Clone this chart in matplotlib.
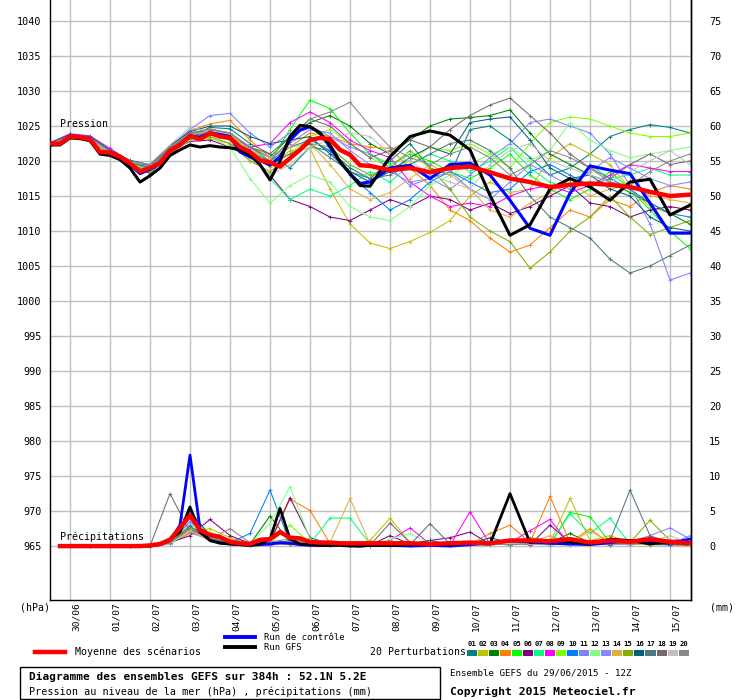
import matplotlib
matplotlib.use("Agg")
import matplotlib.pyplot as plt
import numpy as np
from matplotlib.lines import Line2D
from matplotlib.patches import Rectangle
from matplotlib.transforms import blended_transform_factory

# time steps (hours since 29/06 12Z): 6h to 192h then 12h
HOURS_FINE = np.r_[np.arange(0, 193, 6), np.arange(204, 385, 12)]
RAIN_HOURS_FINE = np.r_[np.arange(6, 193, 6), np.arange(204, 385, 12)]
HOURS_12 = np.arange(0, 385, 12)
RAIN_HOURS_12 = np.arange(12, 385, 12)

DAY_HOURS = np.arange(12, 385, 24)
DAY_LABELS = ['30/06', '01/07', '02/07', '03/07', '04/07', '05/07', '06/07', '07/07',
              '08/07', '09/07', '10/07', '11/07', '12/07', '13/07', '14/07', '15/07']

MEAN_P = [1022.5, 1022.5, 1023.5, 1023.4, 1023.1, 1021.3, 1021.2, 1020.6, 1019.7, 1018.5, 1019.0,
          1019.7, 1021.5, 1022.3, 1023.6, 1023.1, 1024.0, 1023.5, 1023.3, 1022.0, 1021.3, 1020.1,
          1019.8, 1019.2, 1020.4, 1021.6, 1023.0, 1023.3, 1023.1, 1021.6, 1020.9, 1019.4, 1019.3,
          1018.7, 1019.0, 1018.4, 1019.0, 1019.2, 1018.4, 1017.5, 1017.0, 1016.3, 1016.6, 1016.8,
          1016.6, 1016.3, 1015.6, 1015.0, 1015.2]
CTRL_P = [1022.4, 1022.5, 1023.4, 1023.3, 1023.0, 1021.2, 1021.0, 1020.4, 1019.5, 1018.2, 1018.8,
          1019.6, 1021.4, 1022.4, 1023.5, 1023.4, 1024.0, 1023.8, 1023.5, 1021.3, 1020.6, 1020.1,
          1019.4, 1020.6, 1023.0, 1024.4, 1024.9, 1024.0, 1022.0, 1019.9, 1018.2, 1016.8, 1017.0,
          1019.0, 1019.4, 1017.5, 1019.5, 1019.7, 1018.0, 1014.4, 1010.4, 1009.4, 1015.4, 1019.3,
          1018.7, 1018.2, 1014.0, 1009.7, 1009.7]
GFS_P = [1022.3, 1022.3, 1023.3, 1023.2, 1022.9, 1021.0, 1020.8, 1020.2, 1019.0, 1017.0, 1017.9,
         1019.0, 1020.8, 1021.6, 1022.3, 1022.0, 1022.2, 1022.0, 1021.9, 1021.6, 1020.9, 1019.5,
         1017.3, 1020.0, 1023.5, 1025.1, 1024.9, 1024.0, 1022.3, 1019.9, 1018.2, 1016.5, 1016.4,
         1020.6, 1023.5, 1024.3, 1023.7, 1021.6, 1015.1, 1009.4, 1010.9, 1016.0, 1017.5, 1016.3,
         1014.4, 1017.0, 1017.4, 1012.3, 1013.7]

MEAN_R = [0, 0, 0, 0, 0, 0, 0, 0, 0, 0.1, 0.3, 0.9, 2.6, 4.4, 2.3, 1.6, 1.3, 0.6, 0.4, 0.3, 0.9, 1.0,
          2.0, 1.2, 1.1, 0.6, 0.5, 0.5, 0.4, 0.4, 0.4, 0.4,
          0.4, 0.4, 0.3, 0.4, 0.5, 0.4, 0.8, 0.8, 0.7, 1.0, 0.5, 0.8, 0.6, 1.0, 0.6, 0.4]
CTRL_R = [0, 0, 0, 0, 0, 0, 0, 0, 0, 0, 0.2, 0.8, 3.0, 13.0, 2.5, 0.8, 0.5, 0.3, 0.2, 0.1, 0.2, 0.3,
          0.5, 0.4, 0.2, 0.1, 0.1, 0.1, 0.2, 0.1, 0.0, 0.1,
          0.1, 0.0, 0.1, 0.0, 0.2, 0.5, 0.8, 0.6, 0.4, 0.3, 0.2, 0.5, 0.8, 0.6, 0.4, 1.0]
GFS_R = [0, 0, 0, 0, 0, 0, 0, 0, 0, 0, 0.3, 1.0, 2.0, 5.6, 2.0, 0.8, 0.4, 0.3, 0.2, 0.1, 0.3, 1.0,
         5.4, 1.0, 0.3, 0.2, 0.1, 0.1, 0.1, 0.0, 0.0, 0.1,
         0.1, 0.2, 0.3, 0.2, 0.5, 0.3, 7.5, 0.5, 0.8, 0.6, 0.3, 1.0, 0.8, 0.3, 0.6, 0.5]

PERT_COLORS = ['#008080', '#c0c000', '#008000', '#ff8000', '#00ff00', '#800080', '#00ff80',
               '#ff00ff', '#80ff00', '#0080ff', '#8080ff', '#80ff80', '#8888f8', '#e0b040',
               '#80b000', '#006080', '#507880', '#786870', '#c0c0c0', '#888888']

PERT_P = [
    [1022.3, 1023.4, 1023.0, 1021.0, 1019.5, 1018.2, 1021.0, 1023.5, 1024.8, 1024.6, 1022.5, 1021.0, 1019.0,
     1022.0, 1021.5, 1019.0, 1017.5, 1020.0, 1022.5, 1019.0, 1018.0, 1024.5, 1025.0, 1023.0, 1020.5, 1018.0,
     1019.0, 1021.0, 1023.5, 1024.5, 1025.2, 1024.8, 1024.0],
    [1022.5, 1023.6, 1023.3, 1021.4, 1019.9, 1018.8, 1021.3, 1023.0, 1023.2, 1022.5, 1021.0, 1019.2, 1021.5,
     1021.8, 1016.0, 1011.0, 1008.3, 1007.5, 1008.5, 1009.8, 1011.5, 1015.0, 1017.0, 1015.5, 1016.0, 1020.5,
     1022.5, 1021.0, 1019.5, 1016.0, 1013.5, 1012.5, 1013.5],
    [1022.2, 1023.4, 1023.1, 1021.3, 1019.6, 1018.5, 1021.2, 1023.4, 1023.7, 1023.5, 1022.0, 1020.5, 1023.5,
     1025.5, 1026.5, 1025.0, 1022.5, 1021.0, 1023.0, 1025.0, 1026.0, 1026.2, 1026.5, 1027.3, 1024.0, 1021.0,
     1019.5, 1018.0, 1017.0, 1015.5, 1014.0, 1012.5, 1011.0],
    [1022.6, 1023.7, 1023.4, 1021.5, 1020.0, 1019.3, 1022.0, 1024.3, 1025.3, 1025.8, 1023.0, 1020.5, 1022.0,
     1024.0, 1023.5, 1022.5, 1022.0, 1021.8, 1019.0, 1016.5, 1013.0, 1011.5, 1009.0, 1007.0, 1008.0, 1010.5,
     1013.0, 1012.0, 1014.5, 1013.5, 1015.5, 1016.5, 1016.0],
    [1022.4, 1023.5, 1023.2, 1021.2, 1019.7, 1019.0, 1021.6, 1024.0, 1024.5, 1024.0, 1021.5, 1020.0, 1024.5,
     1028.7, 1027.5, 1024.0, 1021.0, 1019.5, 1021.0, 1020.0, 1018.5, 1017.5, 1019.0, 1021.0, 1018.0, 1016.0,
     1014.5, 1016.0, 1018.5, 1016.0, 1013.0, 1010.0, 1007.5],
    [1022.5, 1023.4, 1023.0, 1021.0, 1019.6, 1018.8, 1021.4, 1022.8, 1023.0, 1022.0, 1020.5, 1018.0, 1014.5,
     1013.5, 1012.0, 1011.5, 1013.0, 1014.5, 1013.5, 1015.0, 1014.5, 1013.0, 1014.0, 1012.5, 1013.5, 1015.0,
     1016.5, 1014.0, 1013.5, 1012.0, 1013.0, 1013.5, 1013.0],
    [1022.3, 1023.5, 1023.1, 1021.1, 1019.7, 1018.9, 1021.3, 1023.3, 1023.8, 1023.0, 1021.0, 1017.5, 1014.5,
     1016.0, 1015.0, 1016.5, 1018.5, 1017.0, 1019.5, 1021.0, 1020.0, 1018.5, 1020.0, 1022.0, 1019.0, 1017.0,
     1016.0, 1019.5, 1017.5, 1018.0, 1019.0, 1018.0, 1018.0],
    [1022.6, 1023.9, 1023.6, 1021.8, 1020.0, 1019.1, 1021.7, 1023.5, 1024.2, 1023.5, 1022.0, 1022.5, 1025.5,
     1027.0, 1025.5, 1023.0, 1021.5, 1020.5, 1017.0, 1015.0, 1013.5, 1014.0, 1013.5, 1015.0, 1016.0, 1016.5,
     1015.5, 1016.5, 1018.0, 1019.5, 1019.0, 1018.5, 1018.5],
    [1022.4, 1023.5, 1023.2, 1021.3, 1019.8, 1019.2, 1021.5, 1023.8, 1024.0, 1023.6, 1021.5, 1020.0, 1021.0,
     1023.5, 1024.5, 1022.5, 1020.5, 1019.0, 1020.0, 1022.0, 1021.5, 1022.5, 1021.0, 1019.0, 1022.5, 1025.5,
     1026.3, 1026.0, 1025.0, 1024.0, 1023.5, 1023.5, 1024.0],
    [1022.5, 1023.6, 1023.2, 1021.2, 1019.8, 1019.0, 1021.4, 1023.6, 1024.0, 1023.4, 1021.2, 1020.0, 1022.0,
     1023.0, 1021.5, 1018.0, 1015.5, 1013.0, 1014.5, 1017.0, 1018.5, 1017.0, 1015.5, 1016.0, 1018.5, 1019.5,
     1018.0, 1016.5, 1017.5, 1016.0, 1014.0, 1012.5, 1012.0],
    [1022.4, 1023.5, 1023.2, 1021.3, 1019.9, 1019.3, 1022.0, 1024.5, 1026.5, 1026.8, 1024.0, 1022.0, 1024.0,
     1025.0, 1023.5, 1022.0, 1021.0, 1019.0, 1016.5, 1017.5, 1016.0, 1018.0, 1020.5, 1022.5, 1025.5, 1026.0,
     1025.0, 1024.0, 1021.0, 1016.5, 1011.0, 1003.0, 1004.0],
    [1022.3, 1023.4, 1023.0, 1021.1, 1019.6, 1018.7, 1021.0, 1023.0, 1023.4, 1022.0, 1017.5, 1014.0, 1016.5,
     1018.0, 1017.0, 1013.5, 1012.0, 1011.5, 1013.5, 1016.5, 1018.0, 1019.5, 1021.0, 1022.0, 1020.0, 1021.5,
     1025.5, 1023.0, 1021.5, 1020.5, 1021.0, 1021.5, 1022.0],
    [1022.5, 1023.6, 1023.3, 1021.4, 1020.0, 1019.2, 1021.8, 1023.8, 1024.3, 1023.6, 1021.8, 1020.5, 1022.5,
     1024.5, 1024.0, 1021.5, 1019.5, 1018.5, 1017.0, 1017.5, 1018.5, 1016.0, 1014.5, 1017.0, 1019.5, 1018.0,
     1016.5, 1018.5, 1020.5, 1019.0, 1017.5, 1016.5, 1017.0],
    [1022.4, 1023.5, 1023.1, 1021.2, 1019.7, 1019.0, 1021.5, 1023.7, 1024.5, 1023.8, 1021.5, 1020.5, 1022.0,
     1022.5, 1019.5, 1016.0, 1014.5, 1015.5, 1017.5, 1019.5, 1018.0, 1016.0, 1013.0, 1012.0, 1014.0, 1015.5,
     1017.0, 1015.0, 1016.0, 1016.5, 1015.0, 1014.5, 1014.0],
    [1022.3, 1023.4, 1023.0, 1021.0, 1019.5, 1018.5, 1021.0, 1023.2, 1023.5, 1022.5, 1020.0, 1018.5, 1020.5,
     1022.5, 1022.0, 1019.5, 1018.0, 1019.0, 1021.5, 1019.0, 1016.0, 1012.0, 1010.0, 1008.5, 1004.7, 1007.0,
     1010.0, 1012.0, 1015.0, 1012.0, 1009.5, 1010.5, 1011.5],
    [1022.6, 1023.8, 1023.5, 1021.6, 1020.1, 1019.5, 1022.2, 1024.2, 1025.0, 1025.0, 1023.5, 1022.5, 1023.0,
     1023.5, 1021.0, 1018.5, 1017.0, 1018.5, 1020.5, 1022.0, 1021.0, 1025.5, 1026.0, 1026.3, 1023.0, 1019.0,
     1017.5, 1018.0, 1016.0, 1015.0, 1012.0, 1010.5, 1010.0],
    [1022.5, 1023.6, 1023.2, 1021.3, 1019.8, 1019.0, 1021.6, 1023.5, 1024.0, 1023.2, 1021.0, 1019.5, 1021.0,
     1022.5, 1020.5, 1018.5, 1017.5, 1018.0, 1019.5, 1021.0, 1022.5, 1023.0, 1021.5, 1019.0, 1015.0, 1012.0,
     1010.5, 1009.0, 1006.0, 1004.0, 1005.0, 1006.5, 1008.0],
    [1022.4, 1023.5, 1023.2, 1021.3, 1019.9, 1019.4, 1021.8, 1023.9, 1024.5, 1024.0, 1022.0, 1021.0, 1023.5,
     1026.0, 1025.0, 1022.5, 1020.5, 1021.5, 1023.0, 1022.0, 1024.5, 1026.5, 1028.0, 1029.0, 1026.5, 1024.0,
     1021.0, 1019.0, 1017.5, 1019.5, 1021.0, 1019.5, 1020.0],
    [1022.3, 1023.5, 1023.1, 1021.2, 1019.8, 1019.6, 1022.3, 1024.8, 1024.2, 1023.0, 1020.5, 1018.0, 1019.5,
     1022.0, 1023.0, 1024.0, 1023.5, 1021.0, 1020.0, 1018.0, 1017.0, 1016.0, 1019.5, 1021.5, 1022.5, 1020.0,
     1019.0, 1018.0, 1017.0, 1018.5, 1020.0, 1021.5, 1019.5],
    [1022.5, 1023.6, 1023.3, 1021.4, 1020.0, 1019.5, 1022.0, 1024.0, 1024.6, 1024.0, 1022.0, 1020.0, 1023.0,
     1026.0, 1027.0, 1028.4, 1025.0, 1022.0, 1020.5, 1019.5, 1021.0, 1022.0, 1020.5, 1018.0, 1019.5, 1021.5,
     1020.5, 1019.0, 1017.0, 1016.5, 1018.5, 1020.0, 1021.0],
]

PERT_R = [
    [0, 0, 0, 0, 0, 0.5, 3.5, 1.5, 0.5, 0.3, 0.2, 0.8, 0.3, 0.2, 0.1, 0, 0.3, 0.2, 0.5, 0.1, 0.2, 0.3, 0.5, 0.4, 0.3, 0.2, 0.8, 0.3, 0.5, 0.4, 0.3, 0.2],
    [0, 0, 0, 0, 0, 0.8, 2.0, 2.5, 1.2, 0.3, 0.5, 0.2, 0.3, 0.5, 0.2, 0.8, 4.0, 0.5, 0.2, 0.1, 0.3, 0.5, 0.4, 1.0, 0.5, 6.8, 0.8, 1.5, 0.5, 0.3, 0.2, 0.5],
    [0, 0, 0, 0, 0, 0.6, 2.5, 1.0, 0.5, 0.3, 4.3, 0.5, 0.3, 0.2, 0.3, 0.2, 0.5, 0.2, 0.1, 0.2, 0.3, 0.1, 0.6, 0.8, 0.5, 1.8, 0.5, 1.0, 0.3, 0.2, 0.2, 0.1],
    [0, 0, 0, 0, 0, 0.4, 1.8, 1.2, 0.5, 0.2, 0.5, 6.7, 5.1, 0.4, 0.3, 0.2, 0.3, 0.2, 0.1, 0.2, 0.3, 1.8, 3.0, 0.5, 7.1, 0.5, 2.5, 0.3, 0.4, 0.3, 0.2, 0.2],
    [0, 0, 0, 0, 0, 0.3, 2.2, 1.8, 0.6, 0.3, 0.4, 0.5, 0.3, 0.2, 0.2, 0.3, 0.2, 0.3, 0.2, 0.1, 0.2, 0.4, 0.3, 0.5, 0.3, 4.8, 4.2, 0.5, 0.3, 0.8, 0.4, 0.3],
    [0, 0, 0, 0, 0, 0.5, 1.5, 3.8, 1.5, 0.4, 0.6, 6.9, 1.2, 0.3, 0.2, 0.1, 1.5, 0.3, 0.8, 1.2, 2.0, 0.3, 0.5, 0.2, 3.0, 0.5, 0.3, 0.2, 0.4, 0.5, 0.8, 1.0],
    [0, 0, 0, 0, 0, 0.4, 2.8, 1.2, 0.4, 0.2, 0.3, 0.5, 0.3, 4.0, 4.0, 0.3, 0.2, 0.3, 0.2, 0.1, 0.2, 0.3, 0.2, 0.5, 0.3, 4.6, 1.8, 4.0, 0.3, 0.5, 0.3, 0.2],
    [0, 0, 0, 0, 0, 0.3, 2.5, 0.8, 0.4, 0.3, 0.2, 0.3, 0.5, 0.2, 0.2, 0.2, 0.8, 2.6, 0.3, 0.1, 4.9, 0.3, 0.5, 2.2, 3.8, 0.2, 0.3, 0.2, 0.4, 0.3, 0.2, 0.3],
    [0, 0, 0, 0, 0, 0.7, 4.5, 1.5, 0.5, 0.2, 0.4, 3.0, 0.4, 0.2, 0.1, 0.2, 0.3, 0.2, 0.1, 0.2, 0.2, 0.3, 0.5, 0.8, 0.4, 0.3, 0.2, 0.5, 0.3, 0.2, 0.5, 0.3],
    [0, 0, 0, 0, 0, 0.3, 3.0, 1.0, 0.5, 1.8, 8.0, 0.5, 0.3, 0.2, 0.1, 0.2, 0.3, 0.5, 0.2, 0.1, 0.2, 0.4, 0.3, 0.8, 0.2, 0.3, 0.5, 0.2, 0.3, 0.4, 0.6, 0.3],
    [0, 0, 0, 0, 0, 0.5, 2.0, 1.2, 0.3, 0.2, 0.3, 0.5, 0.2, 0.3, 0.1, 0.1, 0.2, 0.1, 0.3, 0.2, 0.1, 0.2, 0.4, 0.3, 0.2, 0.3, 0.5, 0.4, 0.6, 1.5, 2.6, 1.0],
    [0, 0, 0, 0, 0, 0.6, 2.8, 2.0, 0.8, 0.3, 3.2, 8.5, 1.0, 0.4, 0.3, 0.2, 1.0, 1.8, 0.3, 0.2, 0.3, 0.2, 0.3, 0.4, 0.2, 0.3, 0.5, 0.3, 0.2, 0.3, 0.5, 0.2],
    [0, 0, 0, 0, 0, 0.4, 3.5, 1.0, 0.5, 0.3, 0.3, 0.4, 0.3, 0.2, 0.3, 0.1, 0.2, 0.2, 0.3, 0.1, 0.2, 0.3, 0.5, 0.6, 0.3, 0.2, 0.4, 0.3, 0.2, 0.4, 0.3, 1.5],
    [0, 0, 0, 0, 0, 0.5, 2.0, 0.8, 1.0, 0.4, 0.5, 0.6, 0.4, 0.5, 6.8, 0.3, 0.4, 0.3, 0.2, 0.2, 0.3, 0.4, 0.3, 0.5, 1.5, 0.4, 2.2, 0.5, 0.3, 0.2, 0.4, 0.3],
    [0, 0, 0, 0, 0, 0.4, 2.5, 1.2, 0.3, 0.2, 0.4, 0.3, 0.2, 0.3, 0.2, 0.1, 0.5, 0.3, 0.2, 0.1, 0.3, 0.5, 0.4, 1.2, 0.8, 0.6, 0.5, 0.3, 0.5, 3.7, 0.8, 0.4],
    [0, 0, 0, 0, 0, 0.5, 5.0, 1.5, 0.6, 0.3, 0.5, 0.4, 0.3, 0.2, 0.2, 0.3, 0.2, 0.3, 0.8, 0.2, 0.3, 1.2, 0.5, 0.3, 0.4, 0.3, 0.6, 1.0, 0.5, 0.3, 0.2, 0.5],
    [0, 0, 0, 0, 0, 0.5, 2.8, 1.0, 0.5, 0.3, 0.4, 0.3, 0.4, 0.2, 0.1, 0.2, 0.3, 0.2, 3.2, 0.3, 0.2, 0.3, 0.2, 0.4, 0.3, 0.2, 0.5, 0.8, 8.0, 1.5, 0.4, 0.3],
    [0, 0, 0, 0, 0, 7.5, 2.0, 1.0, 0.5, 0.2, 0.3, 0.4, 0.3, 0.2, 0.2, 0.1, 3.3, 0.5, 0.2, 0.1, 0.2, 0.3, 0.2, 0.5, 0.3, 0.2, 0.4, 0.3, 0.5, 1.0, 0.5, 0.3],
    [0, 0, 0, 0, 0, 0.3, 2.2, 0.8, 0.4, 0.2, 0.3, 0.4, 0.3, 0.2, 0.1, 0.2, 0.3, 0.1, 0.2, 0.1, 0.3, 0.2, 0.4, 0.3, 0.5, 0.2, 0.3, 0.8, 0.5, 0.6, 1.5, 0.4],
    [0, 0, 0, 0, 0, 0.4, 4.0, 1.0, 2.5, 0.5, 0.6, 1.0, 0.4, 0.3, 0.2, 0.1, 0.2, 0.3, 0.2, 0.1, 0.2, 0.3, 0.2, 0.4, 0.3, 0.5, 0.4, 0.6, 0.3, 0.4, 0.3, 0.5],
]

RAIN_BASE = 965  # precipitation drawn on the pressure scale, 0 mm = 965 hPa
FONT = 'DejaVu Sans Mono'
W, H = 740, 700


def fx(px):
    return px / W


def fy(py):
    return 1 - py / H


fig = plt.figure(figsize=(7.4, 7.0), dpi=100)
ax = fig.add_axes([fx(50), fy(600), 641 / W, 600 / H])
ax.set_xlim(0, 384.6)
ax.set_ylim(957.3, 1043)

for i in range(20):
    ax.plot(HOURS_12, PERT_P[i], color=PERT_COLORS[i], lw=0.75, marker='+', ms=2.5, mew=0.6, zorder=2)
    ax.plot(RAIN_HOURS_12, RAIN_BASE + np.array(PERT_R[i]), color=PERT_COLORS[i], lw=0.75,
            marker='+', ms=2.5, mew=0.6, zorder=2)

ax.plot(HOURS_FINE, CTRL_P, color='#0000ff', lw=2.2, zorder=3)
ax.plot(HOURS_FINE, GFS_P, color='black', lw=2.2, zorder=3)
ax.plot(RAIN_HOURS_FINE, RAIN_BASE + np.array(CTRL_R), color='#0000ff', lw=2.0, zorder=3)
ax.plot(RAIN_HOURS_FINE, RAIN_BASE + np.array(GFS_R), color='black', lw=2.0, zorder=3)
ax.plot(HOURS_FINE, MEAN_P, color='#ff0000', lw=3.2, zorder=4)
ax.plot(RAIN_HOURS_FINE, RAIN_BASE + np.array(MEAN_R), color='#ff0000', lw=3.2, zorder=4)

# grid
for p in range(965, 1041, 5):
    ax.axhline(p, color='#c0c0c0', lw=1, zorder=1)
for h in DAY_HOURS:
    ax.axvline(h, color='#c0c0c0', lw=1, zorder=1)

ax.spines['top'].set_visible(False)
for s in ['left', 'right', 'bottom']:
    ax.spines[s].set_color('black')
    ax.spines[s].set_linewidth(1)

ax.set_yticks(range(965, 1041, 5))
ax.set_yticklabels([str(p) for p in range(965, 1041, 5)], fontfamily=FONT, fontsize=7.3)
ax.tick_params(axis='y', length=0, pad=6)
ax.set_xticks([])

sec = ax.secondary_yaxis('right', functions=(lambda p: p - RAIN_BASE, lambda r: r + RAIN_BASE))
sec.set_yticks(range(0, 76, 5))
sec.set_yticklabels([str(r) for r in range(0, 76, 5)], fontfamily=FONT, fontsize=7.3)
sec.tick_params(length=0, pad=13)
sec.spines['right'].set_linewidth(1)

trans = blended_transform_factory(ax.transData, ax.transAxes)
for h, lab in zip(DAY_HOURS, DAY_LABELS):
    ax.text(h + 3.6, -0.004, lab, transform=trans, rotation=90, ha='center', va='top',
            fontfamily=FONT, fontsize=6.8)

ax.text(6, 1025.3, 'Pression', fontfamily=FONT, fontsize=7.1, va='center', ha='left', zorder=5)
ax.text(6, 966.4, 'Précipitations', fontfamily=FONT, fontsize=7.2, va='center', ha='left', zorder=5)

fig.text(fx(20), fy(607), '(hPa)', fontfamily=FONT, fontsize=7.1, va='center')
fig.text(fx(710), fy(607), '(mm)', fontfamily=FONT, fontsize=7.1, va='center')

# legend
fig.add_artist(Line2D([fx(35), fx(65)], [fy(652), fy(652)], color='#ff0000', lw=3.2))
fig.text(fx(75), fy(652), 'Moyenne des scénarios', fontfamily=FONT, fontsize=7.2, va='center')
fig.add_artist(Line2D([fx(225), fx(255)], [fy(637), fy(637)], color='#0000ff', lw=2.8))
fig.add_artist(Line2D([fx(225), fx(255)], [fy(647), fy(647)], color='black', lw=2.8))
fig.text(fx(264), fy(637), 'Run de contrôle', fontfamily=FONT, fontsize=6.5, va='center')
fig.text(fx(264), fy(647), 'Run GFS', fontfamily=FONT, fontsize=6.5, va='center')
fig.text(fx(370), fy(652), '20 Perturbations', fontfamily=FONT, fontsize=7.1, va='center')
for i, c in enumerate(PERT_COLORS):
    x0 = 467 + i * 11.15
    fig.add_artist(Rectangle((fx(x0), fy(656)), 10.2 / W, 6 / H, transform=fig.transFigure,
                             facecolor=c, edgecolor='none'))
    fig.text(fx(x0 + 5), fy(644), '%02d' % (i + 1), fontfamily=FONT, fontsize=5.2,
             fontweight='bold', ha='center', va='center')

fig.add_artist(Rectangle((fx(20), fy(699)), 420 / W, 32 / H, transform=fig.transFigure,
                         fill=False, edgecolor='black', lw=1))
fig.text(fx(29), fy(677), 'Diagramme des ensembles GEFS sur 384h : 52.1N 5.2E', fontfamily=FONT,
         fontsize=8.0, fontweight='bold', va='center')
fig.text(fx(29), fy(692), 'Pression au niveau de la mer (hPa) , précipitations (mm)', fontfamily=FONT,
         fontsize=7.3, va='center')
fig.text(fx(450), fy(673), 'Ensemble GEFS du 29/06/2015 - 12Z', fontfamily=FONT, fontsize=6.6, va='center')
fig.text(fx(450), fy(692), 'Copyright 2015 Meteociel.fr', fontfamily=FONT, fontsize=8.2,
         fontweight='bold', va='center')

fig.savefig('out.png', dpi=100, facecolor='white')
